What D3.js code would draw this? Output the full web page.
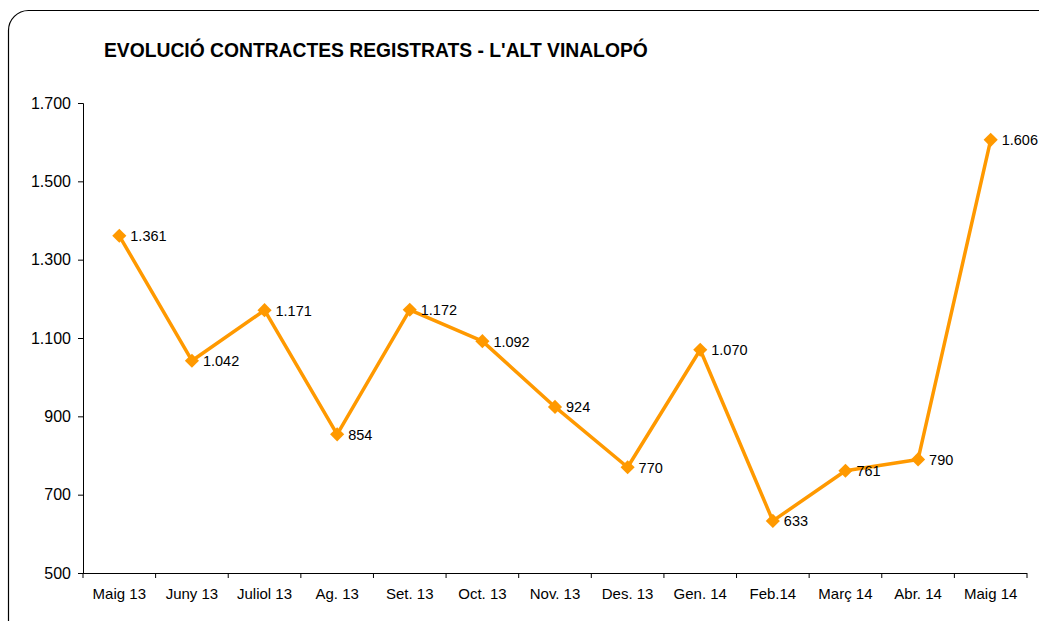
<!DOCTYPE html>
<html><head><meta charset="utf-8">
<script src="https://cdn.jsdelivr.net/npm/d3@7"></script>
<style>body{margin:0;background:#fff}svg{display:block;font-family:"Liberation Sans",Arial,sans-serif}</style>
</head><body>
<svg id="c" width="1039" height="621"></svg>
<script>
const categories = ["Maig 13","Juny 13","Juliol 13","Ag. 13","Set. 13","Oct. 13","Nov. 13","Des. 13","Gen. 14","Feb.14","Març 14","Abr. 14","Maig 14"];
const values = [1361,1042,1171,854,1172,1092,924,770,1070,633,761,790,1606];
const yTicks = [500,700,900,1100,1300,1500,1700];
const title = "EVOLUCIÓ CONTRACTES REGISTRATS - L'ALT VINALOPÓ";

const svg = d3.select("#c");
const fmt = v => d3.format(",")(v).replace(/,/g,".");
svg.append("rect").attr("x",8.5).attr("y",10.5).attr("width",1060).attr("height",640)
  .attr("rx",20).attr("fill","#fff").attr("stroke","#000").attr("stroke-width",1.2);

const L=83, R=1027, T=103, B=573;
const x = d3.scaleBand().domain(categories).range([L,R]);
const y = d3.scaleLinear().domain([500,1700]).range([B,T]);

svg.append("text").attr("x",104).attr("y",57).attr("font-size",19.3).attr("font-weight","bold").attr("fill","#000").text(title);

const ya = svg.append("g").attr("transform",`translate(${L},0)`)
  .call(d3.axisLeft(y).tickValues(yTicks).tickFormat(fmt).tickSize(5).tickPadding(7));
const xa = svg.append("g").attr("transform",`translate(0,${B})`)
  .call(d3.axisBottom(x).tickSize(0).tickPadding(15));
[ya,xa].forEach(g=>{g.select(".domain").attr("stroke","#000");g.selectAll("text").attr("fill","#000").attr("font-family","Liberation Sans, Arial, sans-serif");g.selectAll("line").attr("stroke","#000");});
ya.selectAll("text").attr("font-size",16);
xa.selectAll("text").attr("font-size",15);
xa.select(".domain").attr("d",`M${L},0.5H${R}`);
// ticks at band boundaries
const bounds = categories.map(c=>x(c)).concat([R]);
svg.append("g").selectAll("line").data(bounds).join("line")
  .attr("x1",d=>d).attr("x2",d=>d).attr("y1",B).attr("y2",B+5).attr("stroke","#000");

const cx = c => x(c)+x.bandwidth()/2;
const line = d3.line().x((d,i)=>cx(categories[i])).y(d=>y(d));
svg.append("path").datum(values).attr("d",line).attr("fill","none").attr("stroke","#FF9900").attr("stroke-width",3.5).attr("stroke-linejoin","round");
svg.append("g").selectAll("path").data(values).join("path")
  .attr("d",d3.symbol(d3.symbolSquare,100)())
  .attr("transform",(d,i)=>`translate(${cx(categories[i])},${y(d)}) rotate(45)`)
  .attr("fill","#FF9900");
svg.append("g").selectAll("text").data(values).join("text")
  .attr("x",(d,i)=>cx(categories[i])+11).attr("y",d=>y(d)+5.5)
  .attr("font-size",14.5).attr("fill","#000").text(fmt);
</script>
</body></html>
